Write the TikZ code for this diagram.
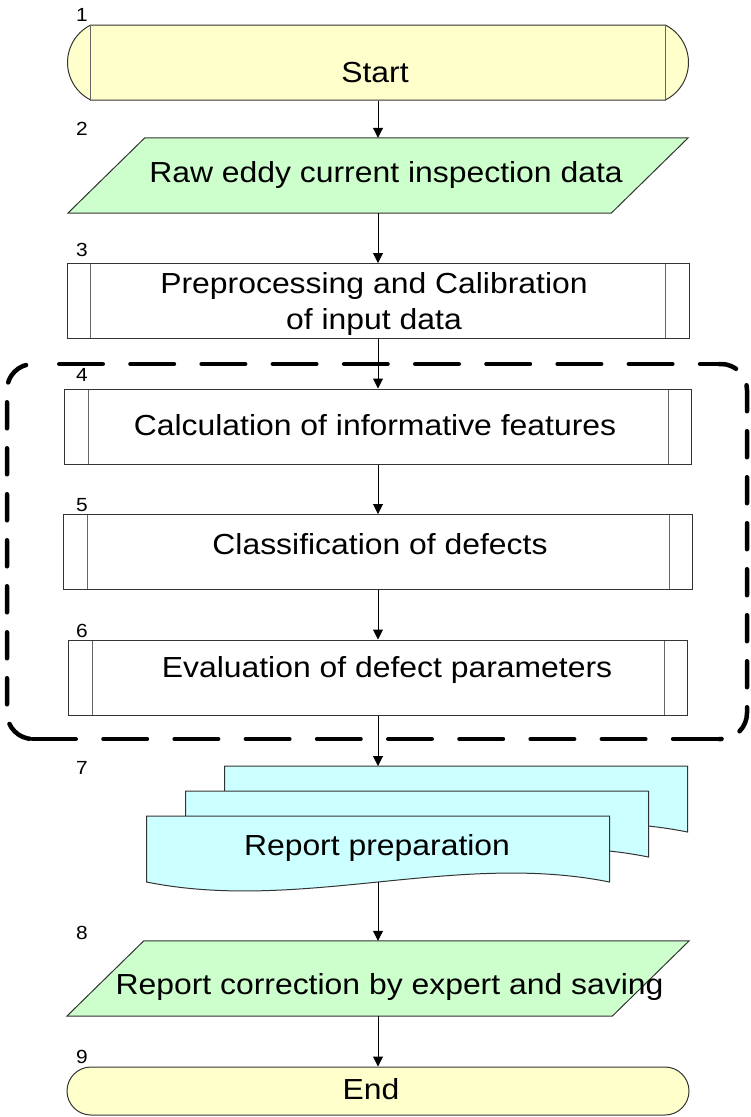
\documentclass[tikz,border=0pt]{standalone}
\usepackage{fontspec}
\usepackage{tikz}
\usetikzlibrary{arrows.meta,shapes.misc}
\newfontfamily\flowfont{Liberation Sans}[FakeStretch=1.1]
\definecolor{termfill}{HTML}{FFFFCC}
\definecolor{iofill}{HTML}{CCFFCC}
\definecolor{docfill}{HTML}{CCFFFF}

\begin{document}
\begin{tikzpicture}[x=1pt,y=-1pt,
  term/.style={rounded rectangle,draw=black!80,fill=termfill,line width=1pt,inner sep=0pt,minimum width=621pt},
  inout/.style={rectangle,inner sep=0pt,minimum height=75pt,minimum width=#1},
  iobox/.style={draw=black!80,fill=iofill,line width=1pt},
  subproc/.style={rectangle,draw=black!80,line width=1pt,inner sep=0pt,minimum height=75pt,
    path picture={\draw [black!60,line width=1pt] ([xshift=23.5pt]path picture bounding box.north west) -- ([xshift=23.5pt]path picture bounding box.south west) ([xshift=-23.5pt]path picture bounding box.north east) -- ([xshift=-23.5pt]path picture bounding box.south east) ;}},
  sheet/.style={draw=black!80,fill=docfill,line width=1pt},
  txt/.style={font=\flowfont\fontsize{29}{36}\selectfont,inner sep=0pt,anchor=base},
  num/.style={font=\flowfont\fontsize{19}{19}\selectfont,inner sep=0pt},
  link/.style={-{Triangle[length=10pt,width=10pt]},line width=1pt},
  hdash/.style={line width=4.5pt,line cap=round,dash pattern=on 43.5pt off 27.7pt},
  vdash/.style={line width=4.5pt,line cap=round,rounded corners=26pt,dash pattern=on 26pt off 20pt}]
\useasboundingbox (0,0) rectangle (751,1117) ;

% group frame round steps 4-6
\draw [hdash] (59.25,364) -- (719,364) ;
\draw [hdash] (32.25,739) -- (721,739) ;
\draw [vdash,dash phase=38.95pt] (33,364) -- (7,364) -- (7,739) -- (33,739) ;
\draw [vdash,dash phase=8pt] (719,364) -- (747,364) -- (747,739) -- (719,739) ;

\node (n1) [term,rounded rectangle arc length=127,minimum height=75pt] at (378,62.5) {} ;
\draw [black!60,line width=1pt] (n1.north west) -- (n1.south west) (n1.north east) -- (n1.south east) ;

\node (n2) [inout=543pt] at (378,175.5) {} ;
\draw [iobox] ([xshift=38.5pt]n2.north west) -- ([xshift=38.5pt]n2.north east) -- ([xshift=-38.5pt]n2.south east) -- ([xshift=-38.5pt]n2.south west) -- cycle ;

\node (n3) [subproc,minimum width=622pt] at (378,301) {} ;
\node (n4) [subproc,minimum width=627pt] at (378,426.5) {} ;
\node (n5) [subproc,minimum width=629pt] at (378,552) {} ;
\node (n6) [subproc,minimum width=619pt] at (378,677.5) {} ;

% stacked report sheets
\foreach \dx/\dy in {78/-50,39/-25,0/0}
  \draw [sheet,shift={(\dx,\dy)}] (146.5,816) -- (609.5,816) -- (609.5,882) .. controls (455.2,851) and (300.8,913) .. (146.5,882) -- cycle ;
\node (n7) [minimum width=463pt,minimum height=66pt,inner sep=0pt] at (378,849) {} ;
\coordinate (d7) at (378,766) ;

\node (n8) [inout=545pt] at (378,978.5) {} ;
\draw [iobox] ([xshift=38.5pt]n8.north west) -- ([xshift=38.5pt]n8.north east) -- ([xshift=-38.5pt]n8.south east) -- ([xshift=-38.5pt]n8.south west) -- cycle ;

\node (n9) [term,minimum height=48pt,minimum width=622pt] at (378,1091) {} ;

\draw [link] (n1) to (n2) ;
\draw [link] (n2) to (n3) ;
\draw [link] (n3) to (n4) ;
\draw [link] (n4) to (n5) ;
\draw [link] (n5) to (n6) ;
\draw [link] (n6) to (d7) ;
\draw [link] (n7) to (n8) ;
\draw [link] (n8) to (n9) ;

\node (t1) [txt] at (375,82) {Start} ;
\node (t2) [txt] at (386,182) {Raw eddy current inspection data} ;
\node (t3) [txt,align=center] at (374,329) {Preprocessing and Calibration\\of input data} ;
\node (t4) [txt] at (375,435) {Calculation of informative features} ;
\node (t5) [txt] at (380,554) {Classification of defects} ;
\node (t6) [txt] at (387,677.5) {Evaluation of defect parameters} ;
\node (t7) [txt] at (377,855.5) {Report preparation} ;
\node (t8) [txt] at (389.5,994) {Report correction by expert and saving} ;
\node (t9) [txt] at (371,1099) {End} ;

\node (l1) [num] at (82,14.5) {1} ;
\node (l2) [num] at (82,129) {2} ;
\node (l3) [num] at (82,250) {3} ;
\node (l4) [num] at (82,375) {4} ;
\node (l5) [num] at (82,505) {5} ;
\node (l6) [num] at (82,630.7) {6} ;
\node (l7) [num] at (82,768) {7} ;
\node (l8) [num] at (82,932.5) {8} ;
\node (l9) [num] at (82,1056.7) {9} ;
\end{tikzpicture}
\end{document}
